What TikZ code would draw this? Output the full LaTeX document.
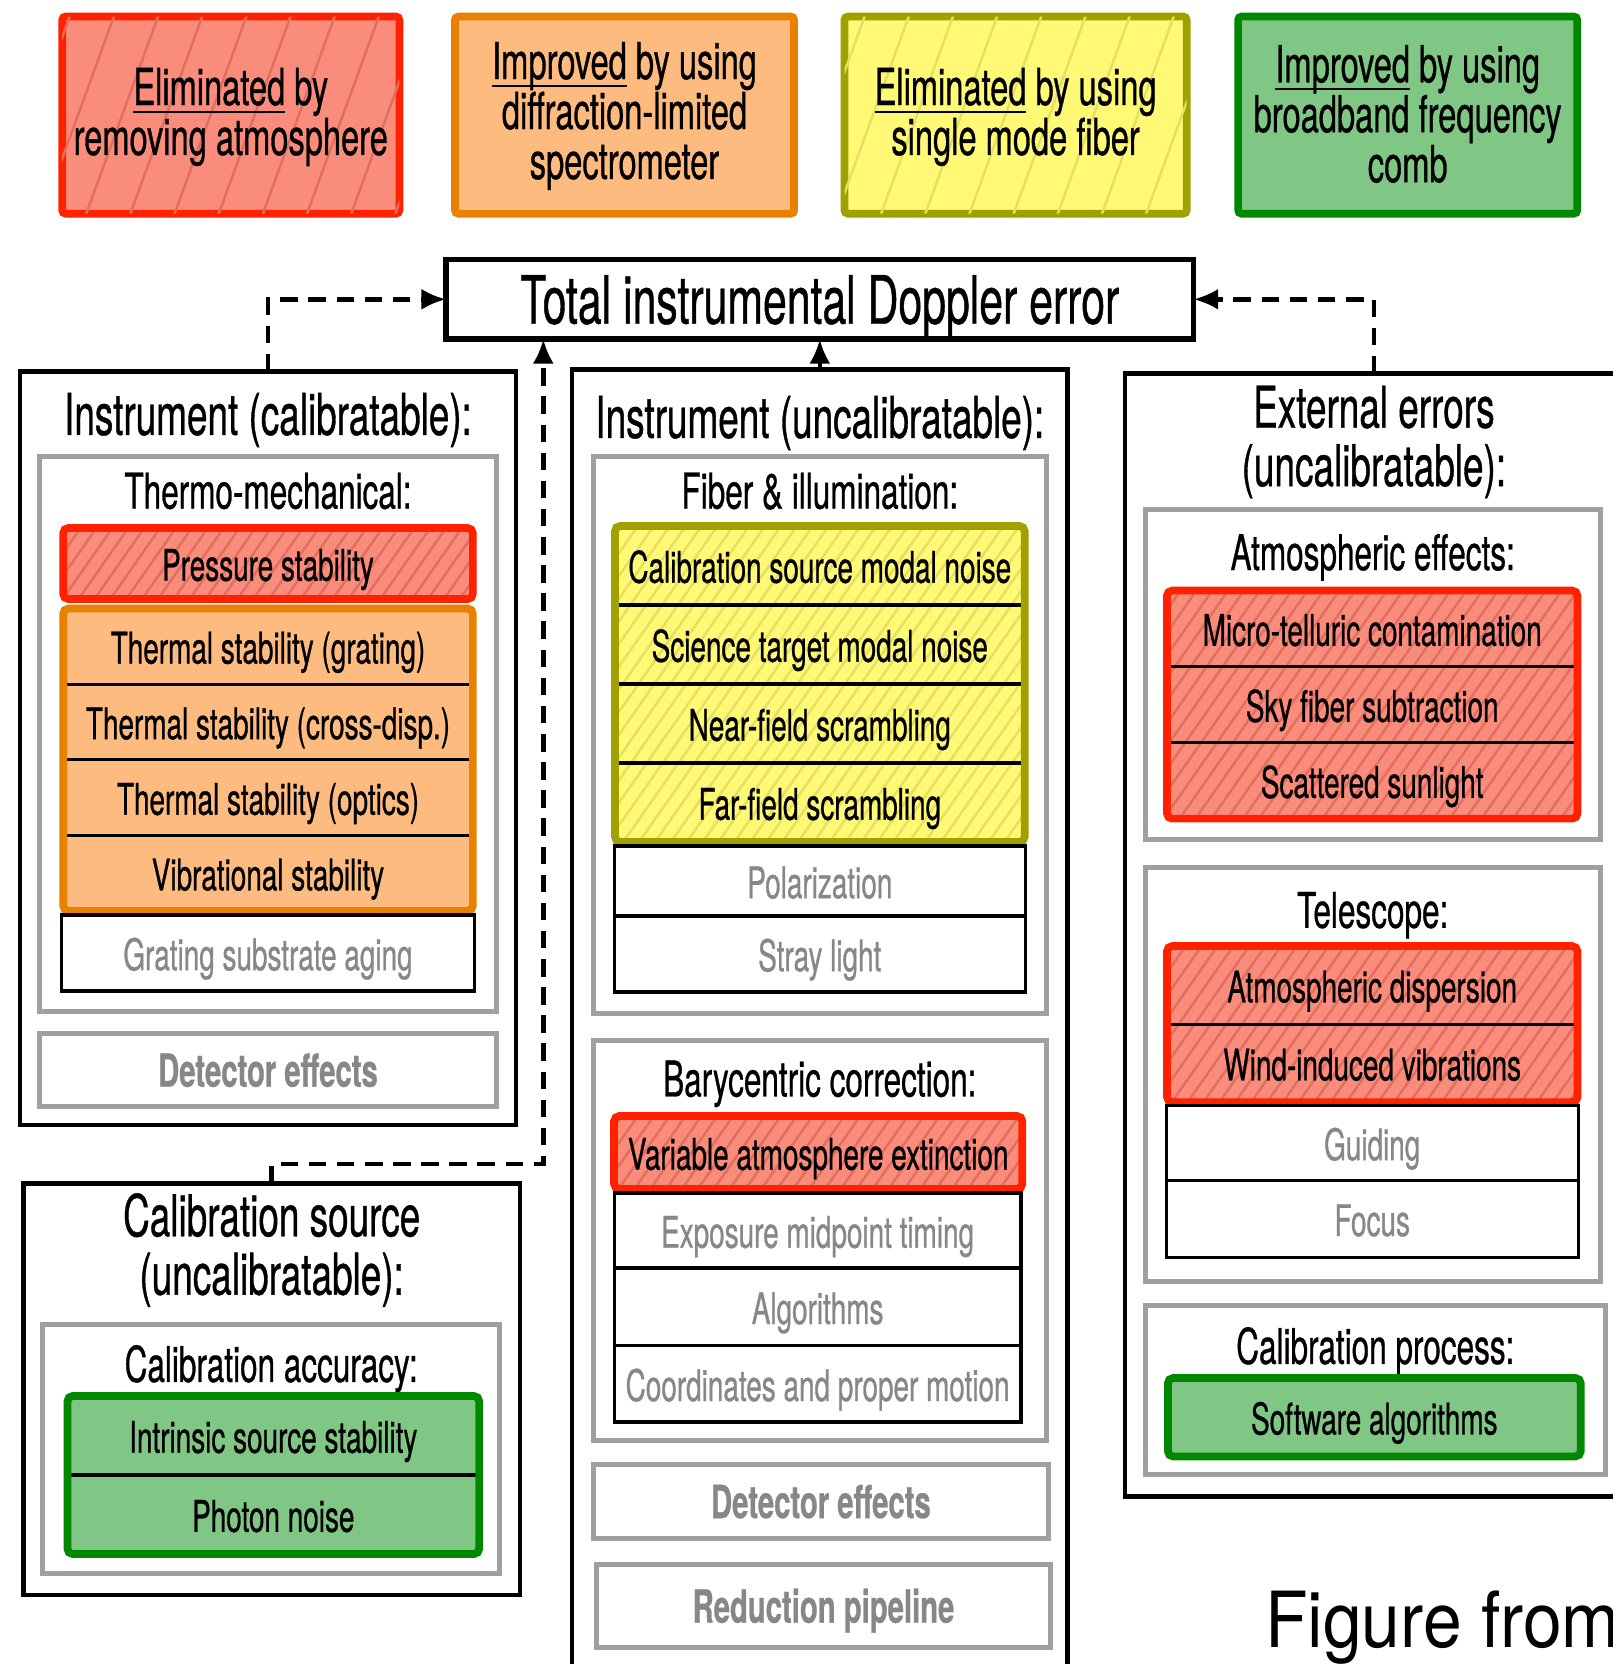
\documentclass[tikz,border=0pt]{standalone}
\usepackage{fontspec}
\setmainfont{TeX Gyre Heros}[FakeStretch=0.64, FakeBold=0.6]
\newfontfamily\captionfont{TeX Gyre Heros}[FakeStretch=0.9]
\usetikzlibrary{arrows.meta,patterns.meta,fit,calc}

\definecolor{redfill}{RGB}{250,140,124}
\definecolor{redhatch}{RGB}{226,110,96}
\definecolor{redline}{RGB}{255,34,0}
\definecolor{orangefill}{RGB}{253,187,128}
\definecolor{orangeline}{RGB}{232,128,0}
\definecolor{yellowfill}{RGB}{255,249,118}
\definecolor{yellowhatch}{RGB}{228,224,96}
\definecolor{yellowline}{RGB}{160,160,0}
\definecolor{greenfill}{RGB}{128,198,132}
\definecolor{greenline}{RGB}{0,136,0}
\definecolor{boxgray}{RGB}{160,160,160}
\definecolor{graytext}{RGB}{135,135,135}

\newcommand\fsTitle{\fontsize{19}{22}\selectfont}
\newcommand\fsBox{\fontsize{16.4}{16.6}\selectfont}
\newcommand\fsSub{\fontsize{14}{16}\selectfont}
\newcommand\fsItem{\fontsize{12.4}{14}\selectfont}
\newcommand\fsLegend{\fontsize{14.5}{14.2}\selectfont}
\newcommand\fsGray{\fontsize{13}{15}\selectfont\bfseries}
% word with a rule just under its baseline, not changing the line's height or depth
\newsavebox\keywordbox
\newcommand\keyword[1]{\sbox\keywordbox{#1}\rlap{\smash{\rule[-2.3pt]{\wd\keywordbox}{0.75pt}}}\usebox\keywordbox}

\tikzset{
  every node/.style={inner sep=0pt, outer sep=0pt, align=center},
  titlebox/.style={draw=black, line width=1.6pt, fill=white, font=\fsTitle, text height=13.9pt, text depth=0pt},
  bigbox/.style={draw=black, line width=1.3pt, fill=white},
  graybox/.style={draw=boxgray, line width=1.4pt, fill=white},
  graylabel/.style={graybox, text=graytext, font=\fsGray, text height=9.4pt, text depth=0pt},
  boxtitle/.style={font=\fsBox},
  subtitle/.style={font=\fsSub, text height=10.4pt, text depth=0pt},
  itemrow/.style={font=\fsItem, text height=9.8pt, text depth=0pt},
  redhatched/.style={fill=redfill, postaction={pattern={Lines[angle=55,distance=3.7pt,line width=0.7pt]}, pattern color=redhatch}},
  yellowhatched/.style={fill=yellowfill, postaction={pattern={Lines[angle=55,distance=3.7pt,line width=0.7pt]}, pattern color=yellowhatch}},
  redrow/.style={itemrow, redhatched},
  orangerow/.style={itemrow, fill=orangefill},
  yellowrow/.style={itemrow, yellowhatched},
  greenrow/.style={itemrow, fill=greenfill},
  whiterow/.style={itemrow, draw=black, line width=0.9pt, fill=white, text=graytext},
  rowsep/.style={draw=black, line width=0.9pt},
  redgroup/.style={draw=redline, line width=2.2pt, rounded corners=1.5pt, inner sep=0pt},
  orangegroup/.style={draw=orangeline, line width=2.2pt, rounded corners=1.5pt, inner sep=0pt},
  yellowgroup/.style={draw=yellowline, line width=2.2pt, rounded corners=1.5pt, inner sep=0pt},
  greengroup/.style={draw=greenline, line width=2.2pt, rounded corners=1.5pt, inner sep=0pt},
  legendbox/.style={line width=2.2pt, rounded corners=1pt, minimum height=1.97cm, font=\fsLegend},
  legendhatch/.style={postaction={pattern={Lines[angle=70,distance=11.8pt,line width=0.7pt]}, pattern color=#1}},
  dashconn/.style={draw=black, line width=1.3pt, dash pattern=on 5pt off 3pt, -{Latex[length=7pt,width=6pt]}},
  solidconn/.style={draw=black, line width=1.3pt, -{Latex[length=7pt,width=6pt]}},
}

\begin{document}
\begin{tikzpicture}[x=0.01cm, y=-0.01cm]
\useasboundingbox (0,0) rectangle (1613,1664);

% ---------- legend ----------
\node[legendbox, draw=redline, fill=redfill, legendhatch=redhatch, minimum width=3.37cm] (legred) at (230.8,115.1) {};
\node[font=\fsLegend] (legredtext) at (230.8,117) {\keyword{Eliminated} by\\removing atmosphere};
\node[legendbox, draw=orangeline, fill=orangefill, minimum width=3.39cm] (legorange) at (624.5,115.1) {};
\node[font=\fsLegend] (legorangetext) at (624.5,116) {\keyword{Improved} by using\\diffraction-limited\\spectrometer};
\node[legendbox, draw=yellowline, fill=yellowfill, legendhatch=yellowhatch, minimum width=3.42cm] (legyellow) at (1015.6,115.1) {};
\node[font=\fsLegend] (legyellowtext) at (1015.6,117) {\keyword{Eliminated} by using\\single mode fiber};
\node[legendbox, draw=greenline, fill=greenfill, minimum width=3.39cm] (leggreen) at (1407.7,115.1) {};
\node[font=\fsLegend] (leggreentext) at (1407.7,114) {\keyword{Improved} by using\\broadband frequency\\comb};

% ---------- total ----------
\node[titlebox, minimum width=7.47cm, minimum height=0.794cm] (title) at (819.8,299.3)
  {Total instrumental Doppler error};

% ---------- outer boxes ----------
\node[bigbox, minimum width=4.953cm, minimum height=7.531cm] (lbox) at (268,748.2) {};
\node[bigbox, minimum width=4.952cm, minimum height=13.3cm] (mbox) at (819.8,1034.7) {};
\node[bigbox, minimum width=4.976cm, minimum height=11.224cm] (rbox) at (1373.9,934.9) {};
\node[bigbox, minimum width=4.963cm, minimum height=4.114cm] (cbox) at (271.7,1389.1) {};

% ---------- instrument (calibratable) ----------
\node[boxtitle] (ltitle) at (268,420) {Instrument (calibratable):};
\node[graybox, minimum width=4.568cm, minimum height=5.543cm] (thermo) at (268,733.8) {};
\node[subtitle] (thermotitle) at (268,490.3) {Thermo-mechanical:};

\node[redrow, minimum width=4.095cm, minimum height=0.71cm] (ps) at (268,563.5) {Pressure stability};
\node[redgroup, fit=(ps)] (psgroup) {};

\node[orangerow, minimum width=4.095cm, minimum height=0.756cm] (tg) at (268,646.3) {Thermal stability (grating)};
\node[orangerow, minimum width=4.095cm, minimum height=0.756cm] (tc) at (268,721.9) {Thermal stability (cross-disp.)};
\node[orangerow, minimum width=4.095cm, minimum height=0.756cm] (to) at (268,797.5) {Thermal stability (optics)};
\node[orangerow, minimum width=4.095cm, minimum height=0.756cm] (vs) at (268,873.1) {Vibrational stability};
\draw[rowsep] (tg.south west) -- (tg.south east);
\draw[rowsep] (tc.south west) -- (tc.south east);
\draw[rowsep] (to.south west) -- (to.south east);
\node[orangegroup, fit=(tg)(vs)] (thgroup) {};

\node[whiterow, minimum width=4.12cm, minimum height=0.76cm] (gs) at (268,953) {Grating substrate aging};

\node[graylabel, minimum width=4.568cm, minimum height=0.726cm] (detl) at (268,1070.2) {Detector effects};

% ---------- instrument (uncalibratable) ----------
\node[boxtitle] (mtitle) at (819.8,423) {Instrument (uncalibratable):};
\node[graybox, minimum width=4.525cm, minimum height=5.565cm] (fiber) at (819.8,734.9) {};
\node[subtitle] (fibertitle) at (819.8,490.3) {Fiber \& illumination:};

\node[yellowrow, minimum width=4.095cm, minimum height=0.79cm] (cs) at (819.8,565.5) {Calibration source modal noise};
\node[yellowrow, minimum width=4.095cm, minimum height=0.79cm] (st) at (819.8,644.5) {Science target modal noise};
\node[yellowrow, minimum width=4.095cm, minimum height=0.79cm] (nf) at (819.8,723.5) {Near-field scrambling};
\node[yellowrow, minimum width=4.095cm, minimum height=0.79cm] (ff) at (819.8,802.5) {Far-field scrambling};
\draw[rowsep] (cs.south west) -- (cs.south east);
\draw[rowsep] (st.south west) -- (st.south east);
\draw[rowsep] (nf.south west) -- (nf.south east);
\node[yellowgroup, fit=(cs)(ff)] (fibgroup) {};

\node[whiterow, minimum width=4.107cm, minimum height=0.70cm] (pol) at (819.8,881) {Polarization};
\node[whiterow, minimum width=4.107cm, minimum height=0.76cm] (stray) at (819.8,954) {Stray light};

\node[graybox, minimum width=4.525cm, minimum height=4.004cm] (bary) at (819.8,1240.5) {};
\node[subtitle] (barytitle) at (819.8,1078.2) {Barycentric correction:};

\node[redrow, minimum width=4.08cm, minimum height=0.73cm] (vae) at (818.2,1152.5) {Variable atmosphere extinction};
\node[redgroup, fit=(vae)] (vaegroup) {};
\node[whiterow, minimum width=4.065cm, minimum height=0.75cm] (emt) at (817.6,1230.5) {Exposure midpoint timing};
\node[whiterow, minimum width=4.065cm, minimum height=0.776cm] (alg) at (817.6,1306.8) {Algorithms};
\node[whiterow, minimum width=4.065cm, minimum height=0.764cm] (cpm) at (817.6,1383.8) {Coordinates and proper motion};

\node[graylabel, minimum width=4.546cm, minimum height=0.737cm] (detm) at (820.9,1501.6) {Detector effects};
\node[graylabel, minimum width=4.535cm, minimum height=0.832cm] (redpipe) at (823.5,1606.2) {Reduction pipeline};

% ---------- external errors ----------
\node[boxtitle] (rtitle) at (1373.9,442) {External errors\\(uncalibratable):};
\node[graybox, minimum width=4.546cm, minimum height=3.293cm] (atmos) at (1372.7,674.4) {};
\node[subtitle] (atmostitle) at (1372.7,551.8) {Atmospheric effects:};

\node[redrow, minimum width=4.103cm, minimum height=0.76cm] (mtc) at (1372.2,628.6) {Micro-telluric contamination};
\node[redrow, minimum width=4.103cm, minimum height=0.76cm] (sfs) at (1372.2,704.6) {Sky fiber subtraction};
\node[redrow, minimum width=4.103cm, minimum height=0.76cm] (ss) at (1372.2,780.6) {Scattered sunlight};
\draw[rowsep] (mtc.south west) -- (mtc.south east);
\draw[rowsep] (sfs.south west) -- (sfs.south east);
\node[redgroup, fit=(mtc)(ss)] (atmgroup) {};

\node[graybox, minimum width=4.546cm, minimum height=4.143cm] (tele) at (1372.7,1074.5) {};
\node[subtitle] (teletitle) at (1372.7,909.5) {Telescope:};

\node[redrow, minimum width=4.103cm, minimum height=0.78cm] (ad) at (1372.2,985.1) {Atmospheric dispersion};
\node[redrow, minimum width=4.103cm, minimum height=0.78cm] (wiv) at (1372.2,1063.1) {Wind-induced vibrations};
\draw[rowsep] (ad.south west) -- (ad.south east);
\node[redgroup, fit=(ad)(wiv)] (telgroup) {};
\node[whiterow, minimum width=4.117cm, minimum height=0.743cm] (guid) at (1372.2,1143) {Guiding};
\node[whiterow, minimum width=4.117cm, minimum height=0.774cm] (focus) at (1372.2,1218.8) {Focus};

\node[graybox, minimum width=4.6cm, minimum height=1.691cm] (calproc) at (1375.3,1390.2) {};
\node[subtitle] (calproctitle) at (1375.3,1345.6) {Calibration process:};
\node[greenrow, minimum width=4.126cm, minimum height=0.784cm] (soft) at (1374.3,1417.2) {Software algorithms};
\node[greengroup, fit=(soft)] (softgroup) {};

% ---------- calibration source ----------
\node[boxtitle] (ctitle) at (271.7,1250) {Calibration source\\(uncalibratable):};
\node[graybox, minimum width=4.568cm, minimum height=2.487cm] (accur) at (271.2,1449.1) {};
\node[subtitle] (accurtitle) at (271.2,1363.6) {Calibration accuracy:};
\node[greenrow, minimum width=4.115cm, minimum height=0.79cm] (iss) at (273.3,1435.5) {Intrinsic source stability};
\node[greenrow, minimum width=4.115cm, minimum height=0.79cm] (pn) at (273.3,1514.5) {Photon noise};
\draw[rowsep] (iss.south west) -- (iss.south east);
\node[greengroup, fit=(iss)(pn)] (accgroup) {};

% ---------- connectors ----------
\coordinate (cj) at (543.3,1164);
\draw[dashconn] (lbox.north) |- (title.west);
\draw[dashconn] (rbox.north) |- (title.east);
\draw[solidconn] (mbox.north) -- (title.south);
\draw[dashconn] (cbox.north) |- (cj) -- (cj |- title.south);

% ---------- caption ----------
\node[anchor=base west, font=\captionfont\fontsize{22}{24}\selectfont] (caption) at (1265,1647) {Figure from};
\end{tikzpicture}
\end{document}
